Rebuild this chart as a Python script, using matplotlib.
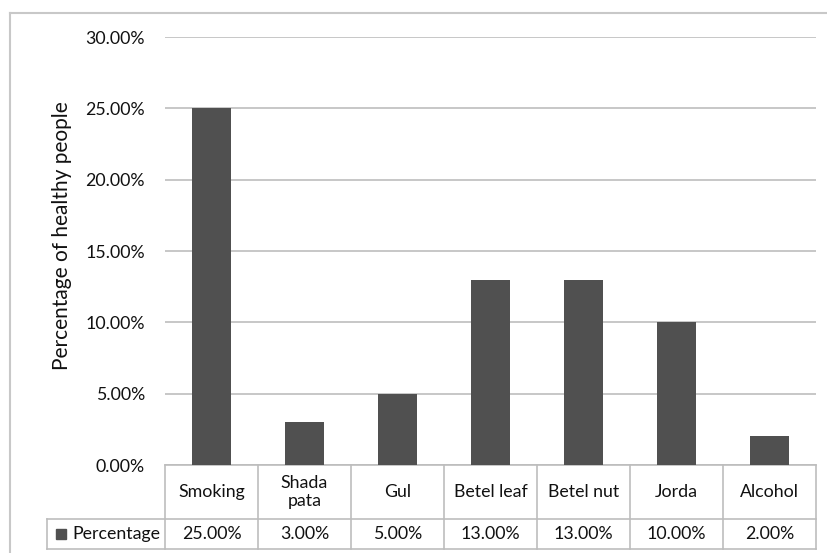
import matplotlib.pyplot as plt
import matplotlib.patches as mpatches
from matplotlib.ticker import FuncFormatter

categories = ["Smoking", "Shada\npata", "Gul", "Betel leaf", "Betel nut", "Jorda", "Alcohol"]
values = [25.0, 3.0, 5.0, 13.0, 13.0, 10.0, 2.0]
series_name = "Percentage"
y_ticks = [0, 5, 10, 15, 20, 25, 30]

W, H = 828, 553
fig = plt.figure(figsize=(W / 100, H / 100), dpi=100)
plt.rcParams['font.family'] = ['Lato', 'DejaVu Sans']

# plot area in pixel coords
x0, x1 = 165, 816
y_top, y_zero = 37, 465
ax = fig.add_axes([x0 / W, 1 - y_zero / H, (x1 - x0) / W, (y_zero - y_top) / H])

bar_color = "#505050"
grid_color = "#bdbdbd"
txt_color = "#111111"
fs = 12.8
n = len(categories)
ax.bar(range(n), values, width=0.42, color=bar_color, zorder=3)
ax.set_xlim(-0.5, n - 0.5)
ax.set_ylim(0, 30)
ax.set_yticks(y_ticks)
ax.yaxis.set_major_formatter(FuncFormatter(lambda v, p: f"{v:.2f}%"))
ax.tick_params(axis='y', length=0, pad=14.5, labelsize=fs, colors=txt_color)
ax.set_xticks([])
ax.grid(axis='y', color=grid_color, lw=1.2, zorder=0)
for s in ax.spines.values():
    s.set_visible(False)

axw = x1 - x0
axh = y_zero - y_top
def ax_x(px):
    return (px - x0) / axw
def ay(py):
    return -(py - y_zero) / axh

ax.text(ax_x(62), ay(236), "Percentage of healthy people", transform=ax.transAxes,
        rotation=90, ha='center', va='center', fontsize=15, color=txt_color)

# data table below the axes
row1 = 519
row2 = 549
left_px = 47
tkw = dict(transform=ax.transAxes, clip_on=False, color=grid_color, lw=1.2)
ax.plot([0, 1], [ay(y_zero), ay(y_zero)], **tkw)
ax.plot([ax_x(left_px), 1], [ay(row1), ay(row1)], **tkw)
ax.plot([ax_x(left_px), 1], [ay(row2), ay(row2)], **tkw)
ax.plot([ax_x(left_px), ax_x(left_px)], [ay(row1), ay(row2)], **tkw)
for i in range(n + 1):
    xa = i / n
    ax.plot([xa, xa], [ay(y_zero), ay(row2)], **tkw)
for i, (c, v) in enumerate(zip(categories, values)):
    xa = (i + 0.5) / n
    ax.text(xa, ay((y_zero + row1) / 2), c, transform=ax.transAxes,
            ha='center', va='center', fontsize=fs, linespacing=1.15, color=txt_color)
    ax.text(xa, ay((row1 + row2) / 2), f"{v:.2f}%", transform=ax.transAxes,
            ha='center', va='center', fontsize=fs, color=txt_color)
# legend key in the table
ax.add_patch(mpatches.Rectangle((ax_x(56), ay(539)), 10 / axw, 10 / axh,
                                transform=ax.transAxes, clip_on=False, color=bar_color))
ax.text(ax_x(72), ay((row1 + row2) / 2), series_name,
        transform=ax.transAxes, ha='left', va='center', fontsize=fs, color=txt_color)

# outer chart border
fig.add_artist(plt.Line2D([10 / W, 10 / W], [1 - 13 / H, 0], color="#c8c8c8", lw=1.5))
fig.add_artist(plt.Line2D([10 / W, 1], [1 - 13 / H, 1 - 13 / H], color="#c8c8c8", lw=1.5))

fig.savefig("out.png", dpi=100)
